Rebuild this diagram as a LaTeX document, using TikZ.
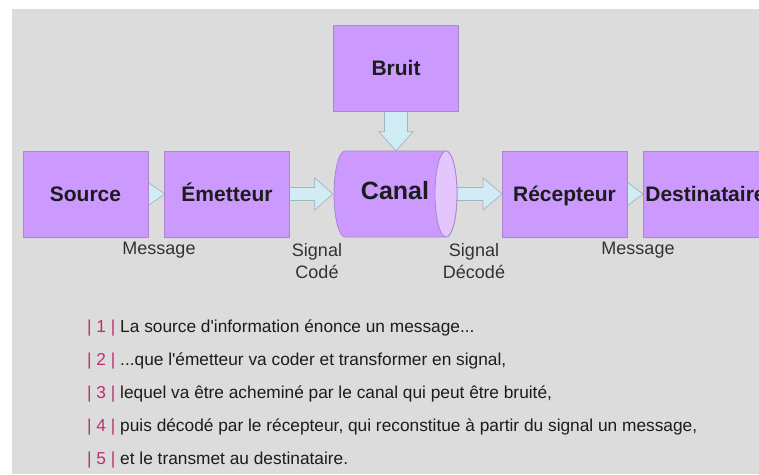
\documentclass[tikz,border=0pt]{standalone}
\usepackage{fontspec}
\setmainfont{Liberation Sans}
\usetikzlibrary{calc}
\definecolor{bggray}{RGB}{220,220,220}
\definecolor{boxfill}{RGB}{204,153,255}
\definecolor{boxline}{RGB}{170,135,205}
\definecolor{endfill}{RGB}{228,198,255}
\definecolor{arrfill}{RGB}{210,236,245}
\definecolor{arrline}{RGB}{160,182,192}
\definecolor{numcol}{RGB}{190,45,115}
\definecolor{txtcol}{RGB}{28,28,28}
\definecolor{labcol}{RGB}{50,50,50}
\tikzset{
  x=1pt, y=1pt,
  stagebox/.style={rectangle, draw=boxline, line width=0.8pt, fill=boxfill,
    minimum width=125pt, minimum height=86pt, inner sep=0pt,
    text height=15pt, text depth=0pt,
    font=\fontsize{21}{25}\selectfont\bfseries, text=txtcol},
  canalnode/.style={rectangle, minimum width=124pt, minimum height=86pt, inner sep=0pt,
    font=\fontsize{25}{30}\selectfont\bfseries, text=txtcol},
  canalbody/.style={draw=boxline, line width=0.8pt, fill=boxfill},
  canalend/.style={draw=boxline, line width=0.8pt, fill=endfill},
  blockarrow/.style={draw=arrline, line width=0.7pt, fill=arrfill, line join=miter},
  lab/.style={font=\fontsize{18}{22}\selectfont, text=labcol, align=center, inner sep=0pt},
  descline/.style={anchor=west, font=\fontsize{17.3}{20}\selectfont, text=txtcol, inner sep=0pt}
}
\newcommand{\numtag}[1]{{\color{numcol}| #1 |}}
\newcommand{\sq}{\textquotesingle}
\begin{document}
\begin{tikzpicture}
\useasboundingbox (0,0) rectangle (759,-474);
\fill[white] (0,0) rectangle (759,-474);
\fill[bggray] (12,-9) rectangle (759,-474);
\begin{scope}
\clip (0,0) rectangle (759,-474);
\node[canalnode] (canal) at (395,-194) {};
% connector end points on the box edges
\coordinate (srcE) at (148,-194);
\coordinate (emetW) at (165,-194);
\coordinate (emetE) at (289.5,-194);
\coordinate (recW) at (502,-194);
\coordinate (recE) at (627,-194);
\coordinate (destW) at (643,-194);
\coordinate (bruitS) at (396,-111);
% source -> emetteur (head only visible)
\fill[arrfill] (srcE) ++(-6,16) -- (emetW) -- ($(srcE)+(-6,-16)$) -- cycle;
\draw[arrline, line width=0.7pt] ($(srcE)+(0,11.5)$) -- (emetW) -- ($(srcE)+(0,-11.5)$);
% recepteur -> destinataire
\fill[arrfill] (recE) ++(-6,16) -- (destW) -- ($(recE)+(-6,-16)$) -- cycle;
\draw[arrline, line width=0.7pt] ($(recE)+(0,12)$) -- (destW) -- ($(recE)+(0,-12)$);
% emetteur -> canal
\draw[blockarrow] let \p1=(emetE), \p2=(canal.west) in
  (\x1,\y1+6.5pt) -- (\x2-18pt,\y1+6.5pt) -- (\x2-18pt,\y1+16pt) -- (\x2,\y1)
  -- (\x2-18pt,\y1-16pt) -- (\x2-18pt,\y1-6.5pt) -- (\x1,\y1-6.5pt) -- cycle;
% canal -> recepteur
\draw[blockarrow] let \p1=(canal.east), \p2=(recW) in
  (\x1-6pt,\y1+6.5pt) -- (\x2-19pt,\y1+6.5pt) -- (\x2-19pt,\y1+16pt) -- (\x2,\y1)
  -- (\x2-19pt,\y1-16pt) -- (\x2-19pt,\y1-6.5pt) -- (\x1-6pt,\y1-6.5pt) -- cycle;
% bruit -> canal
\draw[blockarrow] let \p1=(bruitS), \p2=(canal.north) in
  (\x1-11.5pt,\y1) -- (\x1-11.5pt,\y2+19pt) -- (\x1-17pt,\y2+19pt) -- (\x1,\y2)
  -- (\x1+17pt,\y2+19pt) -- (\x1+11.5pt,\y2+19pt) -- (\x1+11.5pt,\y1) -- cycle;
% boxes
\node[stagebox] (source) at (85.5,-194) {Source};
\node[stagebox] (emet) at (227,-194) {Émetteur};
\node[stagebox] (bruit) at (396,-68) {Bruit};
\node[stagebox] (rec) at (564.5,-194) {Récepteur};
\node[stagebox] (dest) at (705.5,-194) {Destinataire};
% canal cylinder
\draw[canalbody] (446,-151) -- (345,-151)
  arc[start angle=90, end angle=270, x radius=11, y radius=43]
  -- (446,-237) arc[start angle=-90, end angle=90, x radius=11, y radius=43] -- cycle;
\draw[canalend] (446,-194) ellipse[x radius=11, y radius=43];
\node[canalnode] (canaltxt) at (395,-191) {Canal};
% labels
\node[lab] (m1) at (159,-250) {Message};
\node[lab] (sc) at (317,-261) {Signal\\Codé};
\node[lab] (sd) at (474,-261) {Signal\\Décodé};
\node[lab] (m2) at (638,-250) {Message};
% description lines
\node[descline] (l1) at (87,-328) {\numtag{1} La source d\sq information énonce un message...};
\node[descline] (l2) at (87,-361) {\numtag{2} ...que l\sq émetteur va coder et transformer en signal,};
\node[descline] (l3) at (87,-394) {\numtag{3} lequel va être acheminé par le canal qui peut être bruité,};
\node[descline] (l4) at (87,-427) {\numtag{4} puis décodé par le récepteur, qui reconstitue à partir du signal un message,};
\node[descline] (l5) at (87,-460) {\numtag{5} et le transmet au destinataire.};
\end{scope}
\end{tikzpicture}
\end{document}
